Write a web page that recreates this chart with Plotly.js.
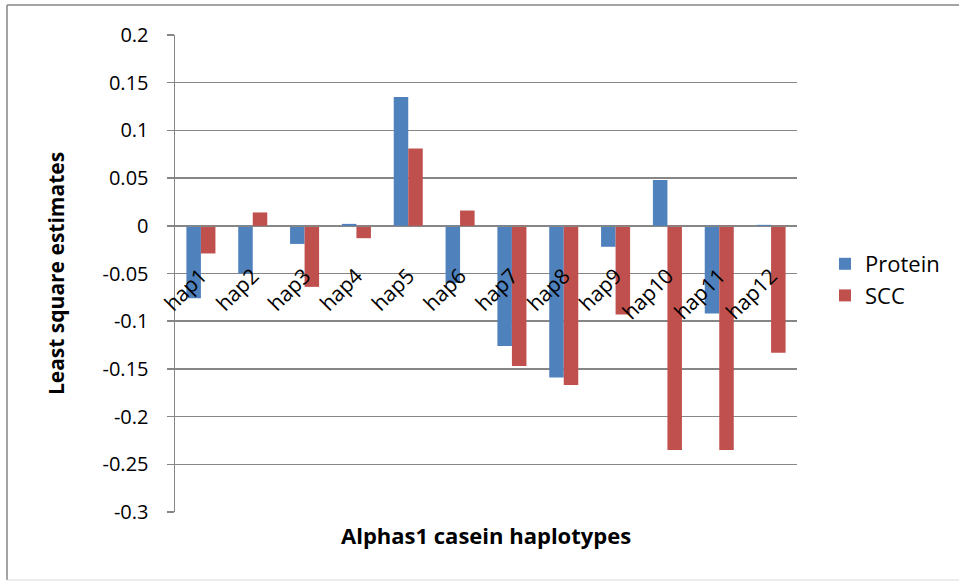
<!DOCTYPE html>
<html>
<head>
<meta charset="utf-8">
<script src="https://cdn.plot.ly/plotly-3.0.1.min.js"></script>
<style>
html,body{margin:0;padding:0;background:#fff;}
#chart{width:959px;height:581px;}
</style>
</head>
<body>
<div id="chart"></div>
<script>
const categories = ["hap1","hap2","hap3","hap4","hap5","hap6","hap7","hap8","hap9","hap10","hap11","hap12"];
const protein = [-0.076,-0.05,-0.019,0.002,0.135,-0.060,-0.126,-0.159,-0.022,0.048,-0.092,0.001];
const scc = [-0.029,0.014,-0.064,-0.013,0.081,0.016,-0.147,-0.167,-0.093,-0.235,-0.235,-0.133];
const yTicks = [0.2,0.15,0.1,0.05,0,-0.05,-0.1,-0.15,-0.2,-0.25,-0.3];
const yTickText = ["0.2","0.15","0.1","0.05","0","-0.05","-0.1","-0.15","-0.2","-0.25","-0.3"];

const FONT = "Open Sans, Liberation Sans, sans-serif";
const traces = [
  {type:'bar', name:'Protein', x:categories, y:protein, marker:{color:'#4F81BD'}},
  {type:'bar', name:'SCC', x:categories, y:scc, marker:{color:'#C0504D'}}
];
const L=175, R=797, T=35, B=512;
const W=R-L, H=B-T;
const px = v => (v-L)/W;
const py = v => (B-v)/H;
const layout = {
  width:959, height:581,
  margin:{l:L, r:959-R, t:T, b:581-B, pad:0},
  paper_bgcolor:'#fff', plot_bgcolor:'#fff',
  font:{family:FONT, color:'#000', size:20},
  barmode:'group', bargap:0.44, bargroupgap:0,
  showlegend:true,
  legend:{x:px(825), y:py(280), xanchor:'left', yanchor:'middle', font:{size:22, family:FONT}, itemwidth:30, tracegroupgap:0, bgcolor:'rgba(0,0,0,0)'},
  xaxis:{
    type:'category', anchor:'free', position:0.6,
    showgrid:false, showline:true, linecolor:'#868686', linewidth:1.5,
    ticks:'', tickangle:-45, tickfont:{size:21, family:FONT},
    ticklabelstandoff:28,
    zeroline:false, fixedrange:true
  },
  yaxis:{
    range:[-0.3,0.2], tickvals:yTicks, ticktext:yTickText,
    showgrid:true, gridcolor:'#868686', gridwidth:1.5,
    zeroline:true, zerolinecolor:'#868686', zerolinewidth:1.5,
    showline:true, linecolor:'#868686', linewidth:1.5,
    ticks:'outside', ticklen:7, tickcolor:'#868686', tickwidth:1.5,
    ticklabelstandoff:14,
    tickfont:{size:20, family:FONT},
    title:{text:'<b>Least square estimates</b>', font:{size:21, family:FONT}, standoff:32}
  },
  annotations:[
    {text:'<b>Alphas1 casein haplotypes</b>', xref:'paper', yref:'paper', x:px(486), y:py(535), xanchor:'center', yanchor:'middle', showarrow:false, font:{size:22, family:FONT}}
  ],
  shapes:[
    {type:'line', xref:'paper', yref:'paper', x0:px(7), x1:px(7), y0:py(5), y1:py(580), line:{color:'#868686', width:1.5}},
    {type:'line', xref:'paper', yref:'paper', x0:px(7), x1:px(959), y0:py(5), y1:py(5), line:{color:'#868686', width:1.5}},
    {type:'line', xref:'paper', yref:'paper', x0:px(7), x1:px(959), y0:py(580), y1:py(580), line:{color:'#d9d9d9', width:1}}
  ]
};
Plotly.newPlot('chart', traces, layout, {displayModeBar:false, staticPlot:true});
</script>
</body>
</html>
